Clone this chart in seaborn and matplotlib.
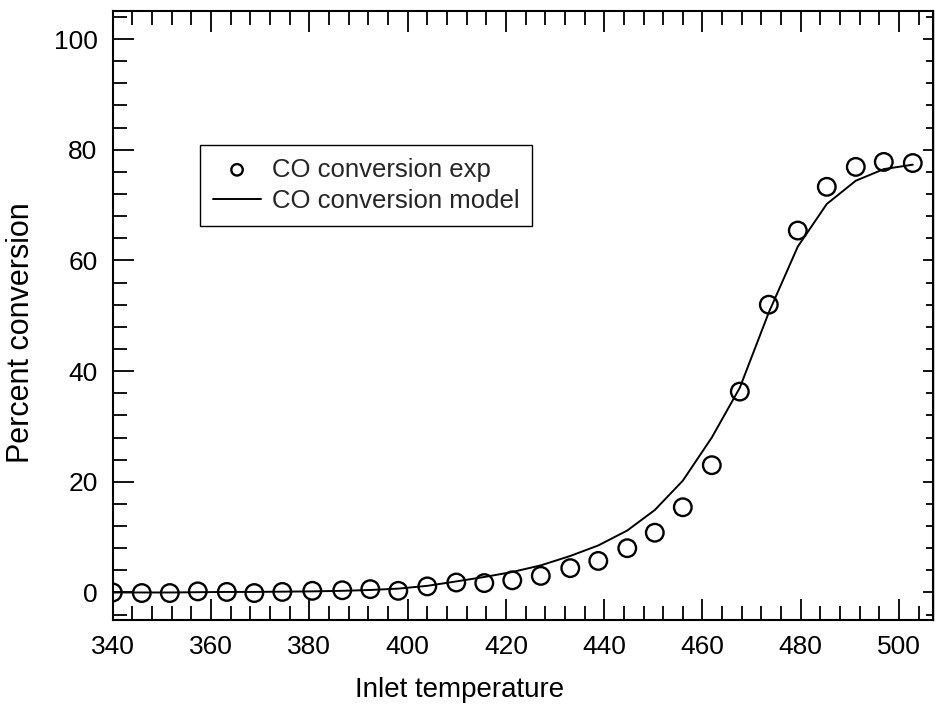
import pandas as pd
import matplotlib
matplotlib.use("Agg")
import matplotlib.pyplot as plt
from matplotlib.ticker import MultipleLocator
import seaborn as sns

# inlet temperature of each measurement / model point
temperature = [340.0, 345.9, 351.6, 357.3, 363.2, 368.8, 374.5, 380.6, 386.7, 392.4,
               398.1, 404.0, 409.9, 415.6, 421.3, 427.1, 433.1, 438.8, 444.7, 450.3,
               456.0, 461.9, 467.6, 473.5, 479.4, 485.3, 491.2, 496.9, 502.8]

# measured CO conversion (%)
conv_exp = [0.0, -0.1, -0.1, 0.2, 0.1, -0.1, 0.1, 0.3, 0.4, 0.6,
            0.3, 1.1, 1.8, 1.7, 2.2, 3.0, 4.4, 5.7, 8.0, 10.8,
            15.4, 23.0, 36.3, 52.0, 65.4, 73.3, 76.9, 77.8, 77.6]

# model CO conversion (%)
conv_model = [0.0, 0.0, 0.0, 0.05, 0.1, 0.1, 0.15, 0.2, 0.3, 0.45,
              0.7, 1.2, 2.0, 2.8, 3.7, 4.9, 6.6, 8.5, 11.2, 14.9,
              20.2, 28.0, 37.0, 50.6, 62.5, 70.2, 74.4, 76.5, 77.3]

df = pd.DataFrame({"temp": temperature, "exp": conv_exp, "model": conv_model})

sns.set_theme(style="white")
plt.rcParams["font.family"] = ["Liberation Sans", "DejaVu Sans"]

fig = plt.figure(figsize=(9.4, 7.12), dpi=100)
ax = fig.add_axes([0.120, 0.129, 0.873, 0.855])

sns.lineplot(data=df, x="temp", y="model", ax=ax, color="black", linewidth=1.4,
             sort=False, label="CO conversion model", zorder=2)
sns.scatterplot(data=df, x="temp", y="exp", ax=ax, marker="o", s=160,
                facecolor="none", edgecolor="black", linewidth=1.7,
                label="CO conversion exp", zorder=3)

ax.set_xlim(340, 507)
ax.set_ylim(-5, 105)
ax.xaxis.set_major_locator(MultipleLocator(20))
ax.xaxis.set_minor_locator(MultipleLocator(4))
ax.yaxis.set_major_locator(MultipleLocator(20))
ax.yaxis.set_minor_locator(MultipleLocator(4))

for sp in ax.spines.values():
    sp.set_visible(True)
    sp.set_color("black")
    sp.set_linewidth(1.5)

ax.tick_params(which="both", direction="in", top=True, bottom=True, left=True, right=False,
               color="black", width=1.3, labelsize=19, pad=11, labelcolor="black")
ax.tick_params(which="major", length=15)
ax.tick_params(which="minor", length=10)

# short ticks on the right edge
sec = ax.secondary_yaxis("right")
sec.yaxis.set_major_locator(MultipleLocator(20))
sec.yaxis.set_minor_locator(MultipleLocator(4))
sec.tick_params(which="both", direction="in", labelright=False, color="black", width=1.3)
sec.tick_params(which="major", length=7)
sec.tick_params(which="minor", length=5)
sec.spines["right"].set_linewidth(1.0)

ax.set_xlabel("Inlet temperature", fontsize=20, color="black")
ax.set_ylabel("Percent conversion", fontsize=22, color="black")
ax.xaxis.set_label_coords(0.422, -0.115)
ax.xaxis.label.set_va("center")
ax.yaxis.set_label_coords(-0.112, 0.472)
ax.yaxis.label.set_va("center")

handles, labels = ax.get_legend_handles_labels()
order = [labels.index("CO conversion exp"), labels.index("CO conversion model")]
leg = ax.legend([handles[i] for i in order], [labels[i] for i in order],
                loc="upper left", bbox_to_anchor=(0.106, 0.781), borderaxespad=0,
                fontsize=18.5, frameon=True, fancybox=False, shadow=False,
                handlelength=1.9, handletextpad=0.4, borderpad=0.5, labelspacing=0.3,
                markerscale=0.65)
leg.get_frame().set_edgecolor("black")
leg.get_frame().set_linewidth(1.0)
leg.get_frame().set_alpha(1)

fig.savefig("out.png", dpi=100)
